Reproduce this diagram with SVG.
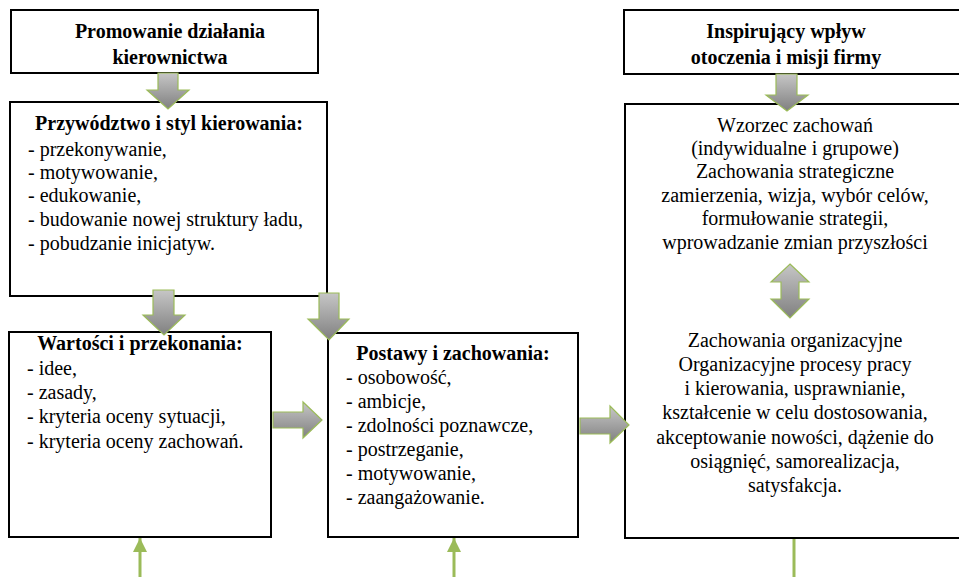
<svg xmlns="http://www.w3.org/2000/svg" width="959" height="577" viewBox="0 0 959 577">
<defs>
<linearGradient id="g" x1="0" y1="0" x2="0" y2="1">
<stop offset="0" stop-color="#c6c6c6"/>
<stop offset="1" stop-color="#808080"/>
</linearGradient>
<marker id="up" viewBox="0 0 10 10" markerWidth="4.7" markerHeight="4.7" refX="10" refY="5" orient="auto" markerUnits="strokeWidth">
<path d="M0,0 L10,5 L0,10 Z" fill="#9bbb59"/>
</marker>
<style>
.box{fill:#fff;stroke:#000;stroke-width:2}
.arr{fill:url(#g);stroke:#9bbb59;stroke-width:1.2}
.g{stroke:#9bbb59;stroke-width:3;fill:none}
text{font-family:"Liberation Serif","Times New Roman",serif;font-size:20px;fill:#000}
.b{font-weight:bold}
.c{text-anchor:middle}
</style>
</defs>
<rect width="959" height="577" fill="#fff"/>
<g id="promowanie">
<rect class="box" x="11" y="10" width="307" height="63"/>
<text class="b c" x="170" y="38">Promowanie działania</text>
<text class="b c" x="170" y="64">kierownictwa</text>
</g>
<g id="inspirujacy">
<rect class="box" x="624" y="10" width="345" height="64"/>
<text class="b c" x="786" y="38">Inspirujący wpływ</text>
<text class="b c" x="786" y="64">otoczenia i misji firmy</text>
</g>
<g id="przywodztwo">
<rect class="box" x="10" y="102" width="317" height="194"/>
<text class="b c" x="169" y="130">Przywództwo i styl kierowania:</text>
<text x="28" y="156">- przekonywanie,</text>
<text x="28" y="179">- motywowanie,</text>
<text x="28" y="202">- edukowanie,</text>
<text x="28" y="226">- budowanie nowej struktury ładu,</text>
<text x="28" y="250">- pobudzanie inicjatyw.</text>
</g>
<g id="wartosci">
<rect class="box" x="9" y="332" width="262" height="205"/>
<text class="b c" x="140" y="350">Wartości i przekonania:</text>
<text x="27" y="375">- idee,</text>
<text x="27" y="399">- zasady,</text>
<text x="27" y="423">- kryteria oceny sytuacji,</text>
<text x="27" y="448">- kryteria oceny zachowań.</text>
</g>
<g id="postawy">
<rect class="box" x="328" y="333" width="250" height="204"/>
<text class="b c" x="453" y="360">Postawy i zachowania:</text>
<text x="346" y="384">- osobowość,</text>
<text x="346" y="408">- ambicje,</text>
<text x="346" y="432">- zdolności poznawcze,</text>
<text x="346" y="456">- postrzeganie,</text>
<text x="346" y="480">- motywowanie,</text>
<text x="346" y="504">- zaangażowanie.</text>
</g>
<g id="wzorzec">
<rect class="box" x="625" y="104" width="345" height="434"/>
<text class="c" x="795" y="132">Wzorzec zachowań</text>
<text class="c" x="795" y="155">(indywidualne i grupowe)</text>
<text class="c" x="795" y="178">Zachowania strategiczne</text>
<text class="c" x="795" y="202">zamierzenia, wizja, wybór celów,</text>
<text class="c" x="795" y="225">formułowanie strategii,</text>
<text class="c" x="795" y="249">wprowadzanie zmian przyszłości</text>
<text class="c" x="795" y="347">Zachowania organizacyjne</text>
<text class="c" x="795" y="371">Organizacyjne procesy pracy</text>
<text class="c" x="795" y="395">i kierowania, usprawnianie,</text>
<text class="c" x="795" y="419">kształcenie w celu dostosowania,</text>
<text class="c" x="795" y="444">akceptowanie nowości, dążenie do</text>
<text class="c" x="795" y="468">osiągnięć, samorealizacja,</text>
<text class="c" x="795" y="492">satysfakcja.</text>
</g>
<g id="connectors">
<path class="arr" d="M158,73 H178 V90 H189 L168,109 L147,90 H158 Z"/>
<path class="arr" d="M776,74 H797 V95 H808 L787,111 L766,95 H776 Z"/>
<path class="arr" d="M153,290 H174 V315 H185 L164,335 L143,315 H153 Z"/>
<path class="arr" d="M319,293 H339 V319 H349 L329,340 L308,319 H319 Z"/>
<path class="arr" d="M273,412 H303 V402 L322,420 L303,438 V428 H273 Z"/>
<path class="arr" d="M580,418 H610 V406 L629,425 L610,443 V434 H580 Z"/>
<path class="arr" d="M790,264 L809,282 H799 V299 H809 L790,318 L771,299 H781 V282 H771 Z"/>
<line class="g" x1="140" y1="577" x2="140" y2="538" marker-end="url(#up)"/>
<line class="g" x1="454" y1="577" x2="454" y2="538" marker-end="url(#up)"/>
<line class="g" x1="794" y1="539" x2="794" y2="577"/>
</g>
</svg>
